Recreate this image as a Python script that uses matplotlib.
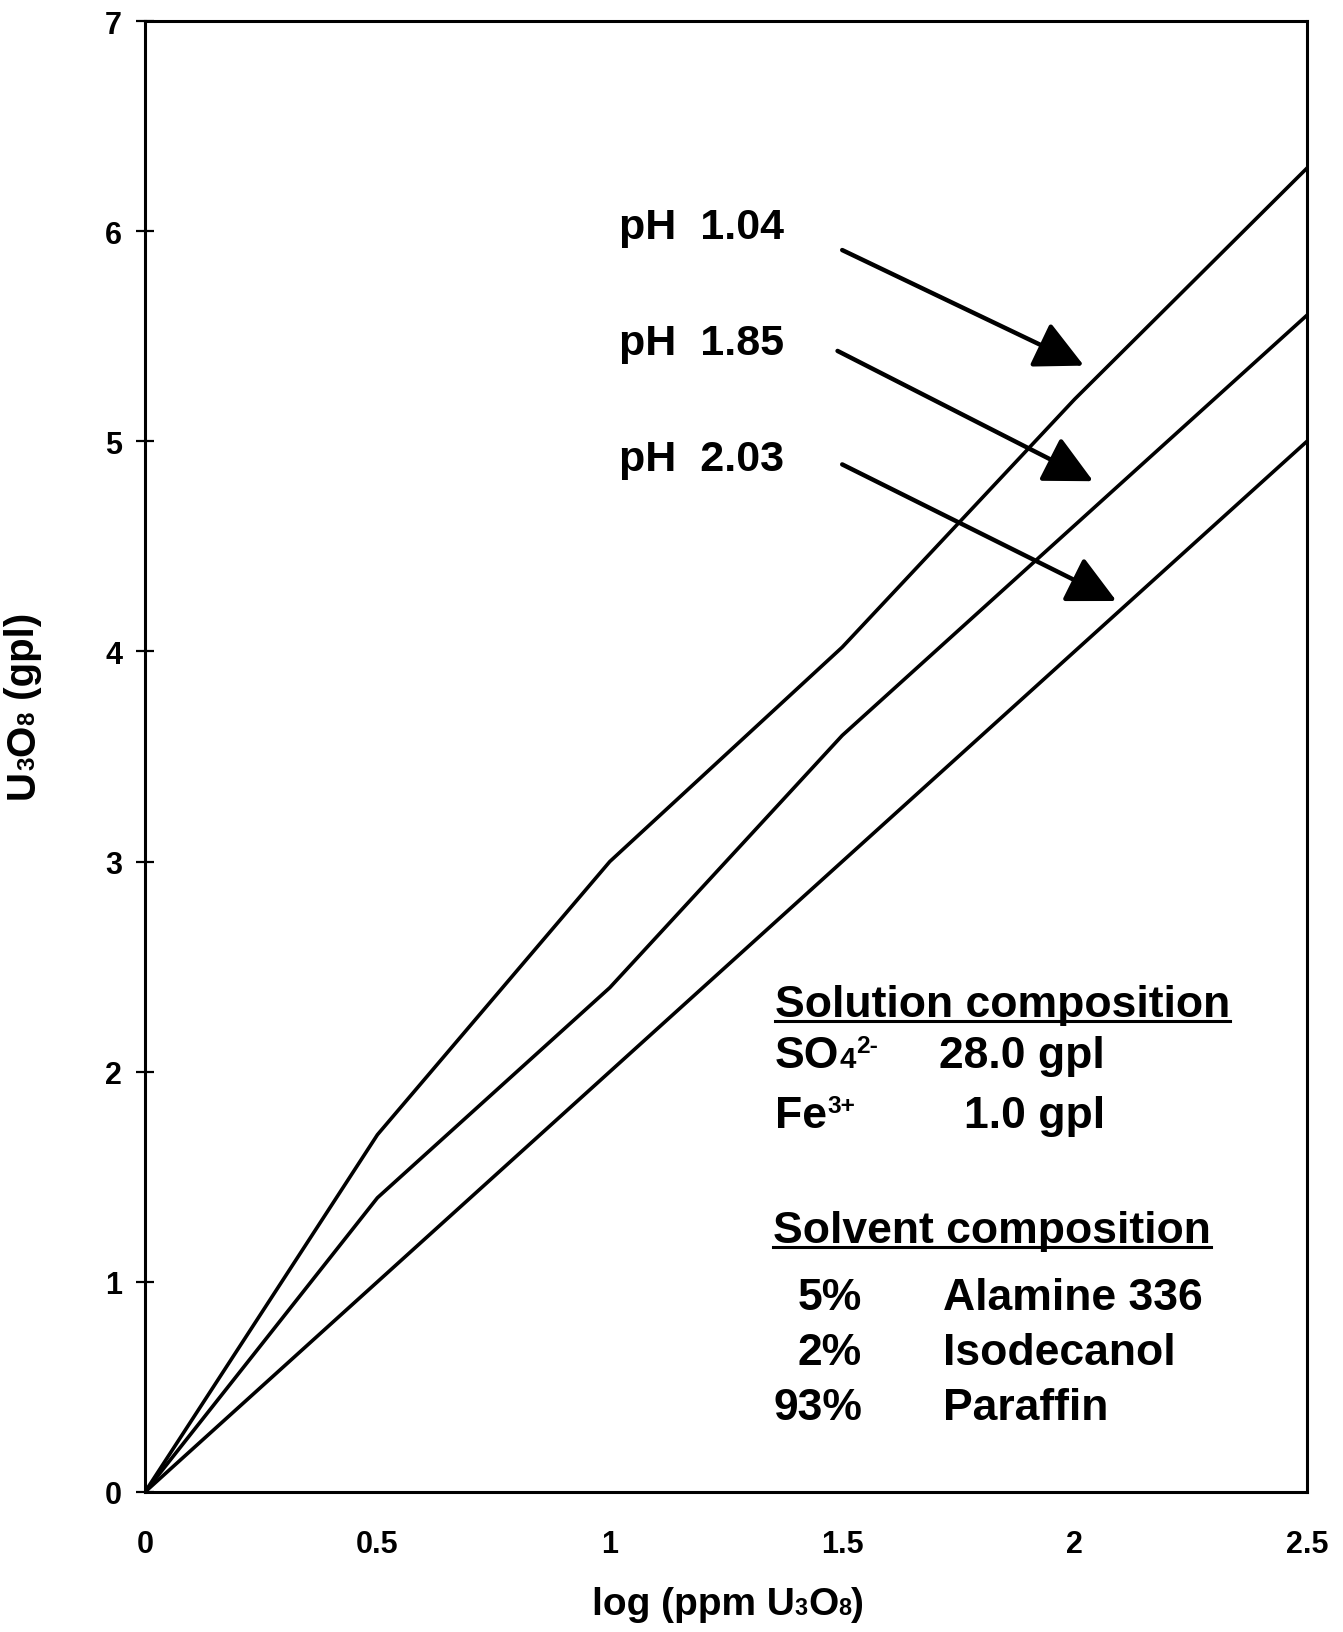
import matplotlib
matplotlib.use("Agg")
import matplotlib.pyplot as plt
from matplotlib.lines import Line2D

plt.rcParams['font.family'] = ['Liberation Sans', 'DejaVu Sans']
plt.rcParams['font.weight'] = 'bold'

# ---- data ----
log_ppm = [0.0, 0.5, 1.0, 1.5, 2.0, 2.5]
ph_104 = [0.0, 1.70, 3.00, 4.02, 5.20, 6.30]
ph_185 = [0.0, 1.40, 2.40, 3.60, 4.60, 5.60]
ph_203 = [0.0, 1.00, 2.00, 3.00, 4.00, 5.00]
series = [ph_104, ph_185, ph_203]
ph_labels = ['pH  1.04', 'pH  1.85', 'pH  2.03']
# arrow annotations (tail -> tip) in data units
arrow_tails = [(1.50, 5.91), (1.49, 5.43), (1.50, 4.89)]
arrow_tips = [(2.02, 5.36), (2.04, 4.81), (2.09, 4.24)]

x_ticks = [0, 0.5, 1, 1.5, 2, 2.5]
x_ticklabels = ['0', '0.5', '1', '1.5', '2', '2.5']
y_ticks = [0, 1, 2, 3, 4, 5, 6, 7]
y_ticklabels = ['0', '1', '2', '3', '4', '5', '6', '7']

W, H = 1343, 1633
fig = plt.figure(figsize=(W / 100, H / 100), dpi=100)
ax = fig.add_axes([145 / W, 1 - 1493 / H, (1307 - 145) / W, (1493 - 22) / H])

for s in series:
    ax.plot(log_ppm, s, color='black', lw=2.6, solid_joinstyle='round')

ax.set_xlim(0, 2.5)
ax.set_ylim(0, 7)
ax.set_xticks(x_ticks)
ax.set_xticklabels(x_ticklabels, fontsize=22, fontweight='bold')
ax.set_yticks(y_ticks)
ax.set_yticklabels(y_ticklabels, fontsize=22, fontweight='bold')
for sp in ax.spines.values():
    sp.set_linewidth(2.2)
ax.tick_params(axis='x', length=0, pad=27)
ax.tick_params(axis='y', direction='inout', length=13, width=1.6, pad=10)

fig.canvas.draw()
r = fig.canvas.get_renderer()


def rich(px, py, segs, fs, rot=0, center=False):
    """Draw a sequence of (text, scale, rise_em) segments; px, py in pixels from top-left."""
    widths = []
    for s, sc, rise in segs:
        tt = fig.text(0, 0, s, fontsize=fs * sc, fontweight='bold')
        widths.append(tt.get_window_extent(r).width)
        tt.remove()
    total = sum(widths)
    pos = -total / 2 if center else 0.0
    for (s, sc, rise), w in zip(segs, widths):
        d = rise * fs * 100 / 72
        if rot == 0:
            X, Y = px + pos, (H - py) + d
        else:
            X, Y = px - d, (H - py) + pos
        fig.text(X / W, Y / H, s, fontsize=fs * sc, fontweight='bold', rotation=rot,
                 rotation_mode='anchor', ha='left', va='baseline')
        pos += w
    return total


# axis labels
rich(728, 1615, [('log (ppm U', 1, 0), ('3', 0.6, 0), ('O', 1, 0), ('8', 0.6, 0), (')', 1, 0)],
     28, center=True)
rich(34, 706, [('U', 1, 0), ('3', 0.6, 0), ('O', 1, 0), ('8', 0.6, 0), (' (gpl)', 1, 0)],
     29, rot=90, center=True)

# pH labels and arrows
ph_baselines = [239, 355, 471]
for lab, yb in zip(ph_labels, ph_baselines):
    fig.text(619 / W, 1 - yb / H, lab, ha='left', va='baseline', fontsize=31, fontweight='bold')
for tail, tip in zip(arrow_tails, arrow_tips):
    ax.annotate('', xy=tip, xytext=tail,
                arrowprops=dict(arrowstyle='-|>,head_length=1.5,head_width=0.75',
                                mutation_scale=20, lw=3.2, color='black',
                                shrinkA=0, shrinkB=0))

# composition text block
fs = 32


def t(x, y, s, ha='left'):
    return fig.text(x / W, 1 - y / H, s, ha=ha, va='baseline', fontsize=fs, fontweight='bold')


h1 = t(775, 1017, 'Solution composition')
rich(775, 1068, [('SO', 1, 0), ('4', 0.66, 0), ('2-', 0.55, 0.33)], fs)
t(1105, 1068, '28.0 gpl', ha='right')
rich(775, 1128, [('Fe', 1, 0), ('3+', 0.55, 0.33)], fs)
t(1105, 1128, '1.0 gpl', ha='right')
h2 = t(773, 1243, 'Solvent composition')
t(862, 1310, '5%', ha='right')
t(943, 1310, 'Alamine 336')
t(862, 1365, '2%', ha='right')
t(943, 1365, 'Isodecanol')
t(862, 1420, '93%', ha='right')
t(943, 1420, 'Paraffin')

fig.canvas.draw()
for h, uy in [(h1, 1022), (h2, 1248)]:
    bb = h.get_window_extent(r)
    fig.add_artist(Line2D([bb.x0 / W, bb.x1 / W], [1 - uy / H, 1 - uy / H],
                          transform=fig.transFigure, color='black', lw=2.2))

fig.savefig('out.png', dpi=100, facecolor='white')
